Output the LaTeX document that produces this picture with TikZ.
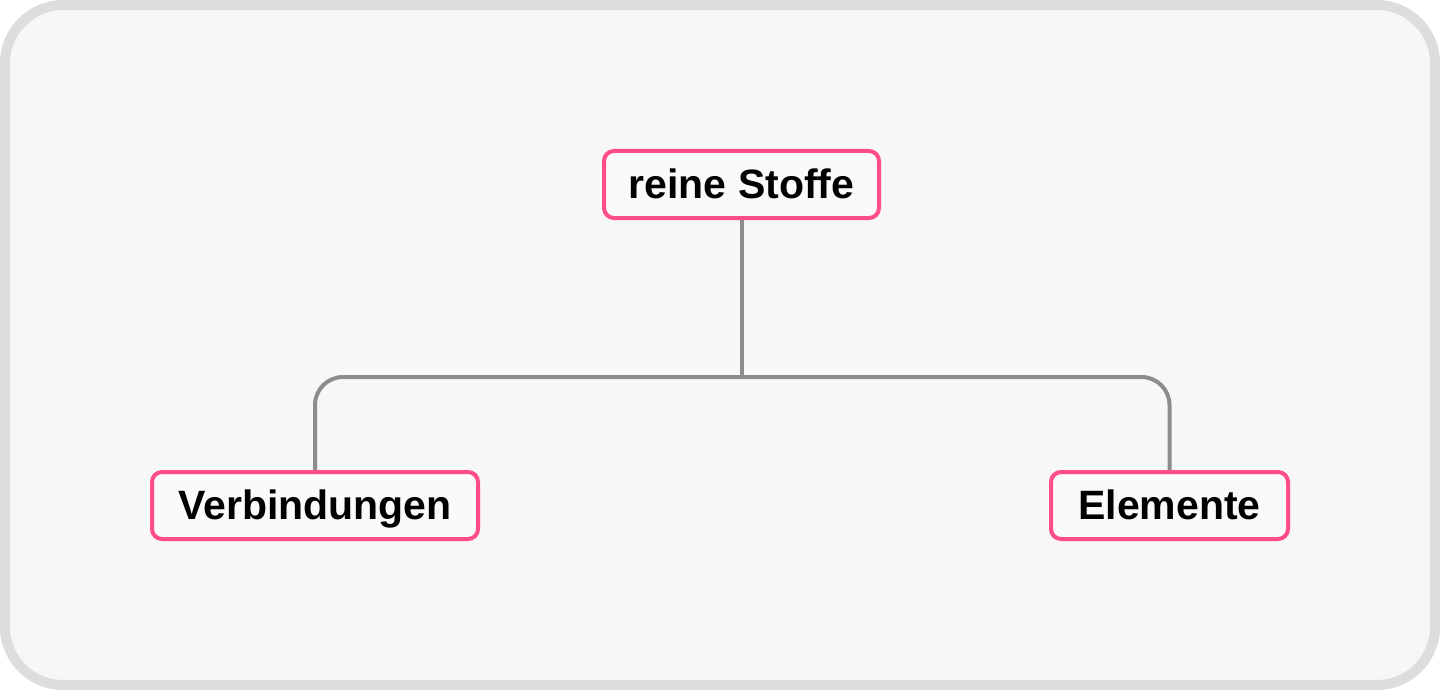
\documentclass[tikz,border=0pt]{standalone}
\usepackage{fontspec}
\setmainfont{Liberation Sans}
\definecolor{bgc}{HTML}{F7F7F7}
\definecolor{framec}{HTML}{DDDDDD}
\definecolor{pinkc}{HTML}{FF4D85}
\definecolor{linec}{HTML}{8C8C8C}
\definecolor{boxfill}{HTML}{FAFAFA}
\tikzset{
  conceptbox/.style={draw=pinkc, line width=4pt, rounded corners=10pt, fill=boxfill,
    minimum height=67pt, inner sep=0pt, text height=37pt, text depth=9pt,
    font=\fontsize{41}{48}\selectfont\bfseries, text=black},
  linkline/.style={draw=linec, line width=4pt, rounded corners=28pt}
}
\begin{document}
\begin{tikzpicture}[x=1pt,y=-1pt]
\useasboundingbox (0,0) rectangle (1440,690);
\draw[draw=framec, fill=bgc, line width=10pt, rounded corners=58pt] (5,5) rectangle (1435,685);
\node[conceptbox, minimum width=275pt] (s) at (741.5,184.5) {reine Stoffe};
\node[conceptbox, minimum width=326pt] (v) at (315,505.5) {Verbindungen};
\node[conceptbox, minimum width=237pt] (e) at (1169.5,505.5) {Elemente};
\coordinate (j) at (741.5,377);
\draw[linkline] (s.south) -- (j);
\draw[linkline] (v.north) |- (j);
\draw[linkline] (e.north) |- (j);
\end{tikzpicture}
\end{document}
